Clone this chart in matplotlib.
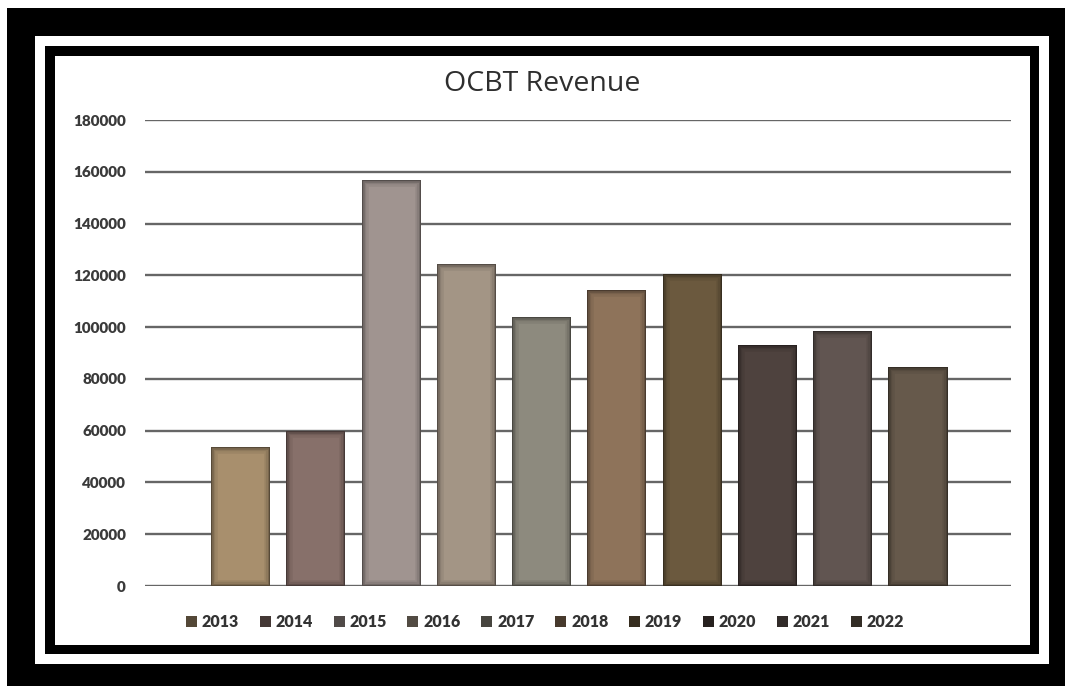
import numpy as np
import matplotlib
matplotlib.use("Agg")
import matplotlib.pyplot as plt
from matplotlib.patches import Rectangle, Patch
from matplotlib.colors import to_rgb

# revenue per year
years = ["2013", "2014", "2015", "2016", "2017", "2018", "2019", "2020", "2021", "2022"]
revenue = [53500, 60000, 157000, 124500, 104000, 114300, 120500, 93000, 98600, 84500]
bar_colors = ["#a88f6d", "#87706a", "#a09490", "#a39585", "#8d8a7e",
              "#8e735a", "#6b593e", "#4e423e", "#615551", "#66594b"]
y_ticks = [0, 20000, 40000, 60000, 80000, 100000, 120000, 140000, 160000, 180000]

W, H = 1065, 686
fig = plt.figure(figsize=(W / 100, H / 100), dpi=100)
fig.patch.set_facecolor("white")


def frame(x0, y0, x1, y1, color):
    # rectangle given in pixel coords, origin top-left
    fig.patches.append(Rectangle((x0 / W, 1 - y1 / H), (x1 - x0) / W, (y1 - y0) / H,
                                 transform=fig.transFigure, facecolor=color,
                                 edgecolor="none", zorder=-5))


frame(7, 8, W, H, "black")
frame(35, 36, 1049, 664, "white")
frame(45, 46, 1039, 654, "black")
frame(55, 56, 1030, 645, "white")

ax = fig.add_axes([145 / W, 1 - 586 / H, 866 / W, 466 / H])
ax.set_facecolor("none")
ax.set_ylim(0, 180000)
ax.set_xlim(-1.27, 10.235)

ax.set_yticks(y_ticks)
ax.set_yticklabels([str(t) for t in y_ticks], fontsize=11, fontweight="heavy",
                   color="#3a3a3a", family="Lato")
ax.tick_params(axis="y", length=0, pad=13.7)
ax.set_xticks([])
for s in ax.spines.values():
    s.set_visible(False)
ax.grid(axis="y", color="#666666", linewidth=1.7)
ax.set_axisbelow(True)

x = np.arange(len(years))
bars = ax.bar(x, revenue, width=0.785, color=bar_colors, zorder=2)

# soft dark shading along the inside of each bar
for b, c in zip(bars, bar_colors):
    dark = tuple(v * 0.35 for v in to_rgb(c))
    for lw, a in [(9, 0.10), (6, 0.14), (3.5, 0.22), (1.6, 0.55)]:
        r = Rectangle(b.get_xy(), b.get_width(), b.get_height(), facecolor="none",
                      edgecolor=dark, linewidth=lw, alpha=a, zorder=3)
        ax.add_patch(r)
        r.set_clip_path(b)

fig.text(542 / W, 1 - 84 / H, "OCBT Revenue", ha="center", va="center",
         fontsize=20.5, color="#2e2e2e", family="Open Sans")

handles = [Patch(facecolor=tuple(v * 0.5 for v in to_rgb(c)), edgecolor="none")
           for c in bar_colors]
fig.legend(handles, years, loc="center", bbox_to_anchor=(545 / W, 1 - 622 / H),
           ncol=10, frameon=False, handlelength=0.69, handleheight=0.69,
           handletextpad=0.3, columnspacing=1.3,
           prop={"family": "Lato", "weight": "heavy", "size": 11.5}, labelcolor="#333333")

fig.savefig("out.png", dpi=100)
